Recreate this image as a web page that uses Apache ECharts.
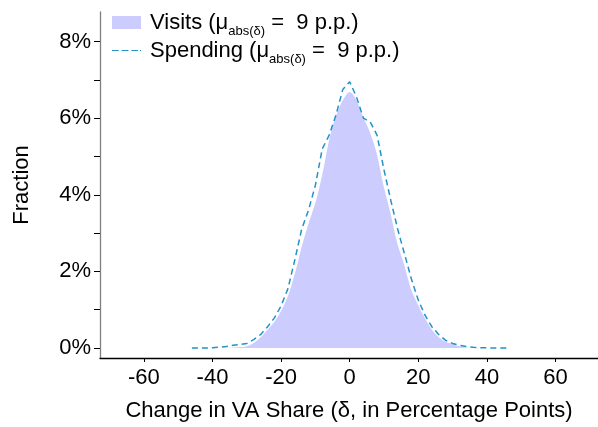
<!DOCTYPE html>
<html>
<head>
<meta charset="utf-8">
<script src="https://cdn.jsdelivr.net/npm/echarts@6/dist/echarts.min.js"></script>
<style>
  html, body { margin: 0; padding: 0; background: #fff; }
  #chart { width: 598px; height: 427px; }
</style>
</head>
<body>
<div id="chart"></div>
<script>
// Change in VA share (percentage points) where the densities are evaluated
const visitsX = [-40, -38, -36, -34, -32, -30, -28, -26, -24, -22, -20, -18, -16, -14, -12, -10, -8, -6, -4, -2,
  0, 2, 4, 6, 8, 10, 12, 14, 16, 18, 20, 22, 24, 26, 28, 30, 32, 34, 36, 38, 40];
// Fraction (%) of observations, visits
const visitsY = [0, 0.01, 0.02, 0.03, 0.04, 0.06, 0.15, 0.3, 0.5, 0.7, 1.0, 1.4, 2.0, 2.7, 3.3, 3.85, 4.6, 5.5, 6.1, 6.5,
  6.7, 6.5, 6.05, 5.65, 5.1, 4.25, 3.55, 2.75, 2.2, 1.55, 1.15, 0.8, 0.5, 0.3, 0.18, 0.12, 0.06, 0.03, 0.01, 0.005, 0];

const spendingX = [-46, -44, -42, -40, -38, -36, -34, -32, -30, -28, -26, -24, -22, -20, -18, -16, -14, -12, -10, -8, -6, -4, -2,
  0, 2, 4, 6, 8, 10, 12, 14, 16, 18, 20, 22, 24, 26, 28, 30, 32, 34, 36, 38, 40, 42, 44, 46];
// Fraction (%) of observations, spending
const spendingY = [0, 0, 0, 0.01, 0.02, 0.04, 0.07, 0.09, 0.12, 0.22, 0.35, 0.55, 0.78, 1.1, 1.55, 2.3, 3.1, 3.6, 4.25, 5.2, 5.55, 6.08, 6.75,
  6.95, 6.55, 6.0, 5.9, 5.55, 4.65, 3.85, 3.1, 2.45, 1.8, 1.25, 0.85, 0.55, 0.35, 0.2, 0.12, 0.07, 0.04, 0.02, 0.01, 0.005, 0, 0, 0];

const xTicks = [-60, -40, -20, 0, 20, 40, 60];
const yLabelTicks = [0, 2, 4, 6, 8];
const yTicks = [0, 1, 2, 3, 4, 5, 6, 7, 8];

const visitsName = 'Visits';
const spendingName = 'Spending';
const muVisits = 9;
const muSpending = 9;

const font = 'Liberation Sans, Arial, sans-serif';
const fs = 22;

const chart = echarts.init(document.getElementById('chart'), null, { renderer: 'canvas' });

const legendLabel = {
  [visitsName]: `{f|${visitsName} (μ}{s|abs(δ)}{t| =  ${muVisits} p.p.)}`,
  [spendingName]: `{f|${spendingName} (μ}{s|abs(δ)}{t| =  ${muSpending} p.p.)}`
};

chart.setOption({
  animation: false,
  backgroundColor: '#ffffff',
  grid: { left: 100, right: 0, top: 12, bottom: 67, containLabel: false },
  legend: {
    orient: 'vertical',
    left: 112,
    top: 12,
    padding: [0, 5, 0, 0],
    itemWidth: 29,
    itemHeight: 13,
    itemGap: 2,
    data: [
      { name: visitsName, icon: 'rect', itemStyle: { color: '#ccccff', borderWidth: 0 } },
      { name: spendingName, icon: 'path://M0,0 L7,0 L7,1 L0,1 Z M10,0 L17,0 L17,1 L10,1 Z M20,0 L27,0 L27,1 L20,1 Z M29,0 L30,0 L30,1 L29,1 Z',
        itemStyle: { color: '#2392c8' } }
    ],
    formatter: name => legendLabel[name],
    textStyle: {
      rich: {
        f: { fontFamily: font, fontSize: fs, color: '#000', lineHeight: 23, verticalAlign: 'bottom', padding: [0, 0, 0, 4] },
        t: { fontFamily: font, fontSize: fs, color: '#000', lineHeight: 23, verticalAlign: 'bottom' },
        s: { fontFamily: font, fontSize: 13, color: '#000', lineHeight: 23, verticalAlign: 'bottom', padding: [0, 0, -4, 0] }
      }
    }
  },
  xAxis: {
    type: 'value',
    min: -72.8,
    max: 72.4,
    name: 'Change in VA Share (δ, in Percentage Points)',
    nameLocation: 'middle',
    nameGap: 42,
    nameTextStyle: { fontFamily: font, fontSize: fs, color: '#000' },
    axisLine: { show: true, onZero: false, lineStyle: { color: '#000', width: 1.3 } },
    axisTick: { show: true, length: 4, customValues: xTicks, lineStyle: { color: '#000' } },
    axisLabel: { customValues: xTicks, fontFamily: font, fontSize: fs, color: '#000', margin: 9 },
    splitLine: { show: false }
  },
  yAxis: {
    type: 'value',
    min: -0.26,
    max: 8.77,
    name: 'Fraction',
    nameLocation: 'middle',
    nameRotate: 90,
    nameGap: 67,
    nameTextStyle: { fontFamily: font, fontSize: fs, color: '#000' },
    axisLine: { show: true, onZero: false, lineStyle: { color: '#7f7f7f', width: 1.3 } },
    axisTick: { show: true, length: 6, customValues: yTicks, lineStyle: { color: '#000' } },
    axisLabel: { customValues: yLabelTicks, formatter: v => v + '%', fontFamily: font, fontSize: fs, color: '#000', margin: 9 },
    splitLine: { show: false }
  },
  series: [
    {
      name: visitsName,
      type: 'line',
      data: visitsX.map((x, i) => [x, visitsY[i]]),
      smooth: 0.3,
      showSymbol: false,
      lineStyle: { color: '#ffffff', width: 1.2 },
      itemStyle: { color: '#ccccff' },
      areaStyle: { color: '#ccccff', opacity: 1, origin: 0 },
      z: 1
    },
    {
      name: spendingName,
      type: 'line',
      data: spendingX.map((x, i) => [x, spendingY[i]]),
      smooth: false,
      showSymbol: false,
      lineStyle: { color: '#2392c8', width: 1.5, type: [6, 4] },
      itemStyle: { color: '#2392c8' },
      z: 2
    }
  ]
});
</script>
</body>
</html>
